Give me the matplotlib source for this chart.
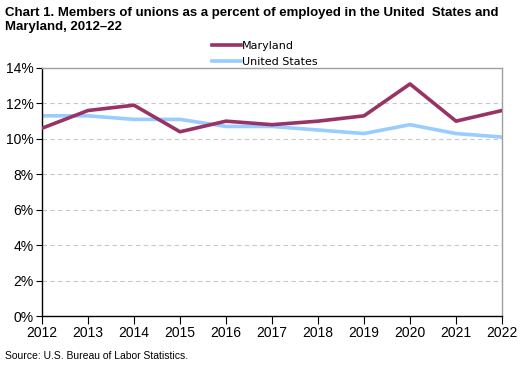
import numpy as np
import matplotlib
matplotlib.use('Agg')
import matplotlib.pyplot as plt

years = [2012, 2013, 2014, 2015, 2016, 2017, 2018, 2019, 2020, 2021, 2022]
maryland = [10.6, 11.6, 11.9, 10.4, 11.0, 10.8, 11.0, 11.3, 13.1, 11.0, 11.6]
united_states = [11.3, 11.3, 11.1, 11.1, 10.7, 10.7, 10.5, 10.3, 10.8, 10.3, 10.1]
y_ticks = [0, 2, 4, 6, 8, 10, 12, 14]

plt.rcParams['font.family'] = ['Liberation Sans', 'DejaVu Sans']

fig = plt.figure(figsize=(5.28, 3.65), dpi=100)
ax = fig.add_axes([0.0795, 0.1342, 0.8713, 0.6795])

ax.plot(years, maryland, color='#993366', lw=2.6, label='Maryland', zorder=3)
ax.plot(years, united_states, color='#99CCFF', lw=2.6, label='United States', zorder=2)

ax.set_xlim(2012, 2022)
ax.set_ylim(0, 14)
ax.set_xticks(years)
ax.set_yticks(y_ticks)
ax.set_yticklabels([f'{v}%' for v in y_ticks])
ax.tick_params(axis='both', labelsize=10, length=4, direction='out', color='black', pad=2)
ax.tick_params(axis='x', length=6, pad=1)

for v in y_ticks[1:-1]:
    ax.axhline(v, color='#c8c8c8', lw=0.8, ls=(0, (4, 3)), zorder=1)

ax.spines['left'].set_color('black')
ax.spines['bottom'].set_color('black')
ax.spines['top'].set_color('#a0a0a0')
ax.spines['right'].set_color('#a0a0a0')
for s in ax.spines.values():
    s.set_linewidth(1)

leg = ax.legend(loc='lower left', bbox_to_anchor=(0.37, 1.005), ncol=1, frameon=False,
                prop={'family': 'DejaVu Sans', 'size': 8}, handlelength=2.6,
                handletextpad=0.1, labelspacing=0.55, borderpad=0, borderaxespad=0)

fig.text(0.0095, 0.982, 'Chart 1. Members of unions as a percent of employed in the United  States and\nMaryland, 2012\u201322',
         ha='left', va='top', fontsize=9.5, fontweight='bold', linespacing=1.25)
fig.text(0.0095, 0.012, 'Source: U.S. Bureau of Labor Statistics.', ha='left', va='bottom', fontsize=7.5)

fig.savefig('out.png', dpi=100)
